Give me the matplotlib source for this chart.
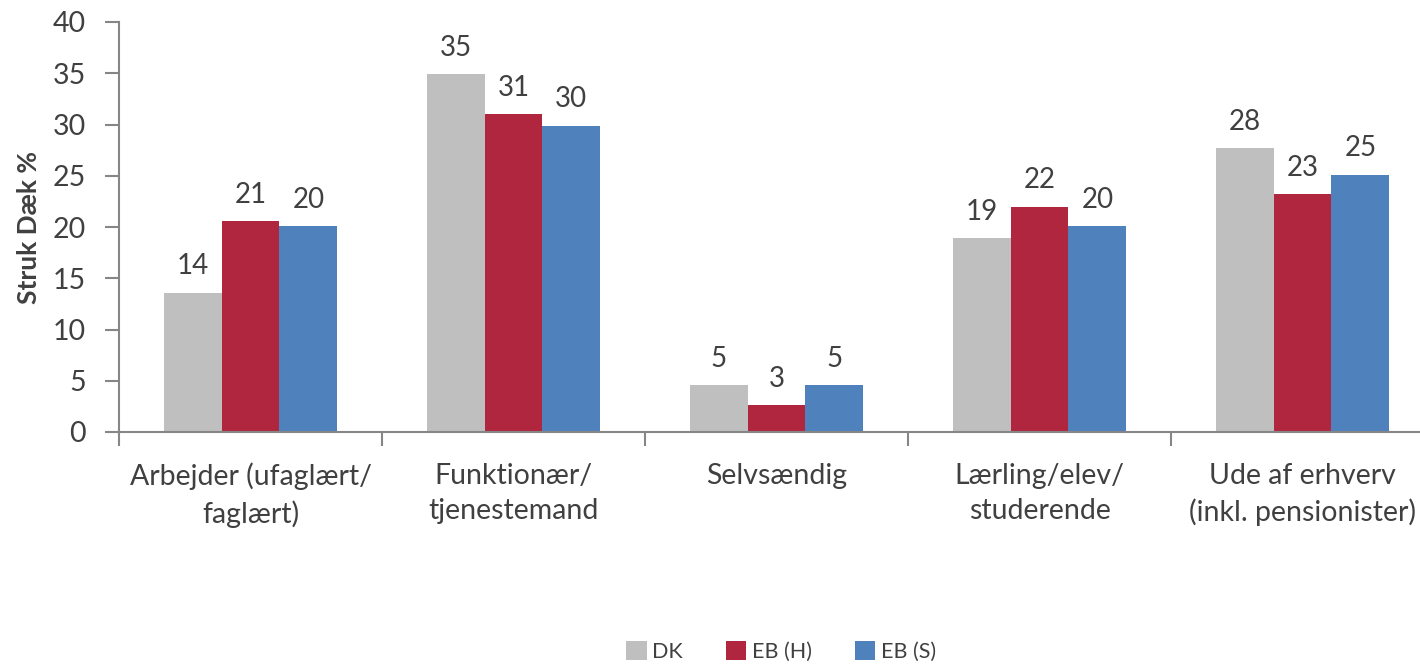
import matplotlib.pyplot as plt
import numpy as np

categories = ["Arbejder (ufaglært/\nfaglært)", "Funktionær/\ntjenestemand", "Selvsændig",
              "Lærling/elev/\nstuderende", "Ude af erhverv\n(inkl. pensionister)"]
series = ["DK", "EB (H)", "EB (S)"]
dk = [13.6, 34.9, 4.6, 18.9, 27.7]
eb_h = [20.6, 31.0, 2.6, 22.0, 23.2]
eb_s = [20.1, 29.9, 4.6, 20.1, 25.1]
colors = ["#BFBFBF", "#B0263E", "#4F81BD"]

plt.rcParams['font.family'] = ['Lato', 'DejaVu Sans']
txt = "#404040"
axc = "#868686"

fig = plt.figure(figsize=(14.2, 6.66), dpi=100)
ax = fig.add_axes([119/1420, 1-432/666, (1434-119)/1420, 410/666])

x = np.arange(len(categories))
w = 0.22
for i, (vals, name, c) in enumerate(zip([dk, eb_h, eb_s], series, colors)):
    pos = x + (i - 1) * w
    ax.bar(pos, vals, width=w, color=c, label=name)
    for p, v in zip(pos, vals):
        ax.text(p, v + 1.3, f"{v:.0f}", ha='center', va='bottom', fontsize=20, color=txt)

ax.set_xlim(-0.5, len(categories) - 0.5)
ax.set_ylim(0, 40)
ax.set_yticks(range(0, 41, 5))
ax.set_xticks(np.arange(-0.5, len(categories), 1.0))
ax.set_xticklabels([])
ax.set_xticks(x, minor=True)
ax.set_xticklabels(categories, minor=True, fontsize=20.5, color=txt, linespacing=1.45)
ax.tick_params(axis='x', which='minor', length=0, pad=22)
ax.tick_params(axis='x', which='major', length=10, color=axc, width=1.5)
ax.tick_params(axis='y', length=10, color=axc, width=1.5, labelsize=20.5, labelcolor=txt, pad=14)
for s in ['top', 'right']:
    ax.spines[s].set_visible(False)
for s in ['left', 'bottom']:
    ax.spines[s].set_color(axc)
    ax.spines[s].set_linewidth(1.5)

ax.set_ylabel("Struk Dæk %", fontsize=19, fontweight='bold', color=txt, labelpad=8)

fig.legend(loc='center', bbox_to_anchor=(0.55, 0.022), ncol=3, frameon=False,
           fontsize=15.5, labelcolor=txt, handlelength=0.95, handleheight=0.95,
           handletextpad=0.25, columnspacing=2.0, borderpad=0.1)

fig.savefig("out.png", dpi=100)
